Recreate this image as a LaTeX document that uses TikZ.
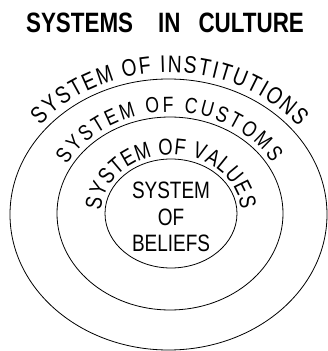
\documentclass[tikz,border=0pt]{standalone}
\usepackage{fontspec}
\setmainfont{Liberation Sans}
\newfontfamily\narrowfont[FakeStretch=0.8]{Liberation Sans}
\usetikzlibrary{decorations.text}

\newcommand\ringfont[1]{\narrowfont\fontsize{#1}{#1}\selectfont}

\tikzset{
  ring/.style={line width=0.8pt},
  ringlabel/.style={decorate, decoration={text along path, text align={fit to path}, text={#1}}}
}

\begin{document}
\begin{tikzpicture}[x=1pt,y=1pt]
  \useasboundingbox (0,0) rectangle (328,351);

  \node (title) at (165,328) {\narrowfont\bfseries\fontsize{28}{28}\selectfont SYSTEMS\hspace{25pt}IN\hspace{18pt}CULTURE};

  % the three rings
  \coordinate (outer) at (168.5,136.5);
  \coordinate (middle) at (170,137.5);
  \coordinate (inner) at (171,137.5);
  \draw[ring] (outer) ellipse [x radius=158.5pt, y radius=135.5pt];
  \draw[ring] (middle) ellipse [x radius=113pt, y radius=96.5pt];
  \draw[ring] (inner) ellipse [x radius=66pt, y radius=54.5pt];

  % labels round the rings
  {\ringfont{24}
  \path[ringlabel={SYSTEM OF INSTITUTIONS}]
    (outer) ++(141:165pt and 142pt) arc [start angle=141, end angle=38, x radius=165pt, y radius=142pt];}
  {\ringfont{22}
  \path[ringlabel={SYSTEM OF CUSTOMS}]
    (middle) ++(151:118pt and 101.5pt) arc [start angle=151, end angle=30, x radius=118pt, y radius=101.5pt];}
  {\ringfont{23}
  \path[ringlabel={SYSTEM OF VALUES}]
    (inner) ++(177:70pt and 59pt) arc [start angle=177, end angle=4, x radius=70pt, y radius=59pt];}

  \node[align=center, font=\narrowfont\fontsize{23.7}{26.5}\selectfont] (beliefs) at (171,134) {SYSTEM\\OF\\BELIEFS};
\end{tikzpicture}
\end{document}
